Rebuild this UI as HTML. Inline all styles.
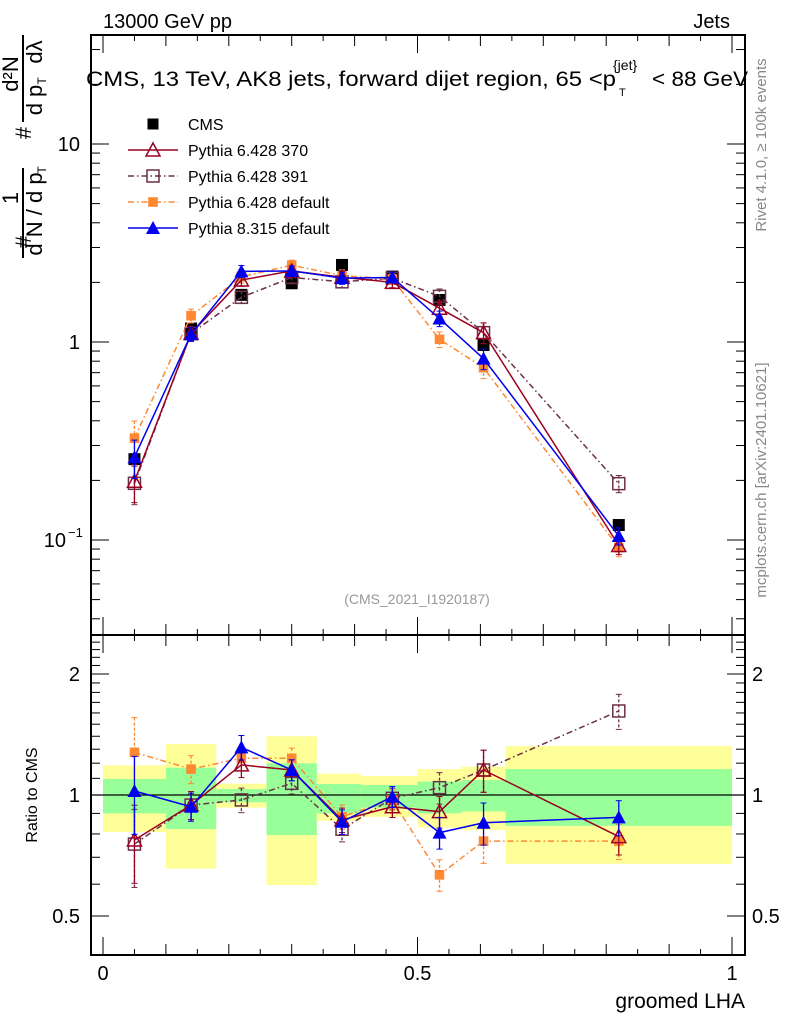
<!DOCTYPE html>
<html><head><meta charset="utf-8"><style>
html,body{margin:0;padding:0;background:#fff;}
svg{display:block;font-family:"Liberation Sans",sans-serif;}
</style></head><body>
<svg id="c" width="786" height="1024" viewBox="0 0 786 1024"></svg>
<script>
const xCenters=[0.05,0.14,0.22,0.30,0.38,0.46,0.535,0.605,0.82];
const binEdges=[0,0.1,0.18,0.26,0.34,0.41,0.5,0.57,0.64,1.0];
const cmsVals=[0.256,1.17,1.73,1.98,2.45,2.14,1.63,0.966,0.119];
const yelLo=[0.809,0.656,0.93,0.597,0.862,0.882,0.83,0.818,0.674];
const yelHi=[1.185,1.339,1.067,1.40,1.13,1.115,1.16,1.176,1.324];
const grnLo=[0.90,0.823,0.959,0.795,0.90,0.93,0.90,0.91,0.838];
const grnHi=[1.096,1.169,1.035,1.199,1.065,1.059,1.08,1.09,1.16];
const r370=[0.773,0.944,1.188,1.154,0.867,0.935,0.909,1.154,0.788];
const r391=[0.755,0.944,0.972,1.069,0.822,0.981,1.043,1.154,1.618];
const rP6def=[1.277,1.16,1.234,1.234,0.883,0.972,0.633,0.768,0.768];
const rP8=[1.023,0.935,1.314,1.154,0.858,0.99,0.806,0.853,0.88];
const relErr=[0.22,0.08,0.07,0.06,0.07,0.06,0.09,0.12,0.1];
const xTicks=[0,0.5,1];const xTickLabels=["0","0.5","1"];
const ratioTicks=[0.5,1,2];const ratioTickLabels=["0.5","1","2"];

const NS="http://www.w3.org/2000/svg";const svg=document.getElementById('c');
function mk(t,a,p){const e=document.createElementNS(NS,t);for(const k in a)e.setAttribute(k,a[k]);(p||svg).appendChild(e);return e;}
const L=91,R=745,T=35,MB=635,RB=955;
const X=v=>103+v*629;
const Y=v=>342-198*Math.log10(v);
const RY=v=>795-402*Math.log10(v);
const bands=mk('g',{});
for(let i=0;i<9;i++){
 mk('rect',{x:X(binEdges[i]),y:RY(yelHi[i]),width:X(binEdges[i+1])-X(binEdges[i]),height:RY(yelLo[i])-RY(yelHi[i]),fill:'#ffff99'},bands);
 mk('rect',{x:X(binEdges[i]),y:RY(grnHi[i]),width:X(binEdges[i+1])-X(binEdges[i]),height:RY(grnLo[i])-RY(grnHi[i]),fill:'#99ff99'},bands);
}
mk('line',{x1:L,x2:R,y1:RY(1),y2:RY(1),stroke:'#000','stroke-width':1.2});
for(const [t,b,n] of [[T,MB,'main-plot-frame'],[MB,RB,'ratio-plot-frame']]){
 const r=mk('rect',{x:L,y:t,width:R-L,height:b-t,fill:'none',stroke:'#000','stroke-width':2});
 
}
for(const [t,b] of [[T,MB],[MB,RB]]){
 for(let v=0;v<=1.0001;v+=0.05){const big=Math.abs(v*10-Math.round(v*10))<1e-6 ? (Math.abs(v*2-Math.round(v*2))<1e-6?18:11):6;
  mk('line',{x1:X(v),x2:X(v),y1:b,y2:b-big,stroke:'#000'});mk('line',{x1:X(v),x2:X(v),y1:t,y2:t+big,stroke:'#000'});}
}
xTicks.forEach((v,i)=>{const e=mk('text',{x:X(v),y:980,'font-size':20,'text-anchor':'middle'});e.textContent=xTickLabels[i];
 });
for(let d=-2;d<=1;d++)for(let m=1;m<10;m++){const v=m*Math.pow(10,d);const y=Y(v);if(y<T||y>MB)continue;const l=m==1?18:9;
 mk('line',{x1:L,x2:L+l,y1:y,y2:y,stroke:'#000'});mk('line',{x1:R,x2:R-l,y1:y,y2:y,stroke:'#000'});}
[[10,'10'],[1,'1']].forEach(([v,s])=>{const e=mk('text',{x:80,y:Y(v)+7,'font-size':20,'text-anchor':'end'});e.textContent=s;});
{const e=mk('text',{x:66,y:Y(0.1)+7,'font-size':20,'text-anchor':'end'});e.textContent='10';
 const s=mk('text',{x:68,y:Y(0.1)-3,'font-size':13});s.textContent='−1';}
for(let v=0.4;v<=2.51;v+=0.1){const y=RY(v);if(y<MB||y>RB)continue;const big=[0.5,1,2].some(q=>Math.abs(q-v)<1e-6);const l=big?18:9;
 mk('line',{x1:L,x2:L+l,y1:y,y2:y,stroke:'#000'});mk('line',{x1:R,x2:R-l,y1:y,y2:y,stroke:'#000'});}
ratioTicks.forEach((v,i)=>{for(const [x,a] of [[80,'end'],[752,'start']]){const e=mk('text',{x:x,y:RY(v)+7,'font-size':20,'text-anchor':a});e.textContent=ratioTickLabels[i];}});
const series=[
 {n:'pythia6-391',r:r391,c:'#6b3048',d:'6,3,1.5,3',m:'osq'},
 {n:'pythia6-default',r:rP6def,c:'#ff8833',d:'6,3,1.5,3',m:'fsq'},
 {n:'pythia6-370',r:r370,c:'#990022',d:'',m:'otri'},
 {n:'pythia8-default',r:rP8,c:'#0000ee',d:'',m:'ftri'}];
function marker(m,x,y,c,g,s){s=s||6;
 if(m=='osq')mk('rect',{x:x-s,y:y-s,width:2*s,height:2*s,fill:'none',stroke:c,'stroke-width':1.5},g);
 else if(m=='fsq')mk('rect',{x:x-s*0.8,y:y-s*0.8,width:1.6*s,height:1.6*s,fill:c},g);
 else if(m=='otri')mk('polygon',{points:`${x},${y-s-1} ${x-s-1},${y+s} ${x+s+1},${y+s}`,fill:'none',stroke:c,'stroke-width':1.5},g);
 else if(m=='ftri')mk('polygon',{points:`${x},${y-s-1} ${x-s-1},${y+s} ${x+s+1},${y+s}`,fill:c},g);
 else mk('rect',{x:x-s,y:y-s,width:2*s,height:2*s,fill:c},g);}
const cg=mk('g',{});
xCenters.forEach((x,i)=>marker('cms',X(x),Y(cmsVals[i]),'#000',cg));
series.forEach(s=>{
 const g=mk('g',{});
 const mv=xCenters.map((x,i)=>cmsVals[i]*s.r[i]);
 mk('polyline',{points:xCenters.map((x,i)=>X(x)+','+Y(mv[i])).join(' '),fill:'none',stroke:s.c,'stroke-width':1.5,'stroke-dasharray':s.d},g);
 mk('polyline',{points:xCenters.map((x,i)=>X(x)+','+RY(s.r[i])).join(' '),fill:'none',stroke:s.c,'stroke-width':1.5,'stroke-dasharray':s.d},g);
 xCenters.forEach((x,i)=>{
  const e=relErr[i];
  for(const [yf,v] of [[Y,mv[i]],[RY,s.r[i]]]){
   const y1=yf(v*(1+e)),y2=yf(v*(1-e));
   mk('line',{x1:X(x),x2:X(x),y1:y1,y2:y2,stroke:s.c,'stroke-width':1.3,'stroke-dasharray':s.d?'3,2':''},g);
   mk('line',{x1:X(x)-3,x2:X(x)+3,y1:y1,y2:y1,stroke:s.c},g);mk('line',{x1:X(x)-3,x2:X(x)+3,y1:y2,y2:y2,stroke:s.c},g);
  }
  marker(s.m,X(x),Y(mv[i]),s.c,g);marker(s.m,X(x),RY(s.r[i]),s.c,g);
 });
});
const leg=[['CMS','#000','','cms'],['Pythia 6.428 370','#990022','','otri'],['Pythia 6.428 391','#6b3048','6,3,1.5,3','osq'],['Pythia 6.428 default','#ff8833','6,3,1.5,3','fsq'],['Pythia 8.315 default','#0000ee','','ftri']];
leg.forEach((l,i)=>{const y=124+i*26;const g=mk('g',{});
 if(i>0)mk('line',{x1:128,x2:178,y1:y,y2:y,stroke:l[1],'stroke-width':1.5,'stroke-dasharray':l[2]},g);
 marker(l[3],153,y,l[1],g,i==0?5.5:6);
 const t=mk('text',{x:188,y:y+6,'font-size':16},g);t.textContent=l[0];});
function txt(s,a,n){const e=mk('text',a);e.textContent=s;return e;}
txt('13000 GeV pp',{x:103,y:28,'font-size':20},'energy-label');
txt('Jets',{x:730,y:28,'font-size':20,'text-anchor':'end'},'process-label');
txt('CMS, 13 TeV, AK8 jets, forward dijet region, 65 <p',{x:86,y:86,'font-size':21,textLength:530,lengthAdjust:'spacingAndGlyphs'},'plot-title');
txt('T',{x:619,y:96,'font-size':11},'title-sub');txt('{jet}',{x:613,y:70,'font-size':14},'title-sup');
txt('< 88 GeV',{x:652,y:86,'font-size':21,textLength:96,lengthAdjust:'spacingAndGlyphs'},'title-end');
txt('(CMS_2021_I1920187)',{x:417,y:604,'font-size':14,fill:'#999','text-anchor':'middle'},'analysis-id');
txt('groomed LHA',{x:745,y:1008,'font-size':21,'text-anchor':'end'},'x-axis-title');
txt('Ratio to CMS',{x:0,y:0,'font-size':16,'text-anchor':'middle',transform:'translate(37,795) rotate(-90)'},'ratio-y-axis-title');
txt('Rivet 4.1.0, \u2265 100k events',{x:0,y:0,'font-size':15,fill:'#888','text-anchor':'middle',transform:'translate(766,145) rotate(-90)'},'rivet-label');
txt('mcplots.cern.ch [arXiv:2401.10621]',{x:0,y:0,'font-size':15,fill:'#888','text-anchor':'middle',transform:'translate(766,480) rotate(-90)'},'mcplots-label');
const yt=mk('g',{});
function rt(s,x,y,fs){const e=mk('text',{x:0,y:0,'font-size':fs||22,'text-anchor':'middle',transform:`translate(${x},${y}) rotate(-90)`},yt);e.textContent=s;return e;}
rt('#',31,242);rt('1',18,198);
mk('line',{x1:23,x2:23,y1:258,y2:168,stroke:'#000','stroke-width':2},yt);
rt('d N / d p',42,214);rt('T',46,170,12);
rt('#',31,133);rt('d²N',18,74);
mk('line',{x1:23,x2:23,y1:122,y2:35,stroke:'#000','stroke-width':2},yt);
rt('d p',42,100);rt('T',46,81,12);rt('dλ',42,52);
</script>
</body></html>
